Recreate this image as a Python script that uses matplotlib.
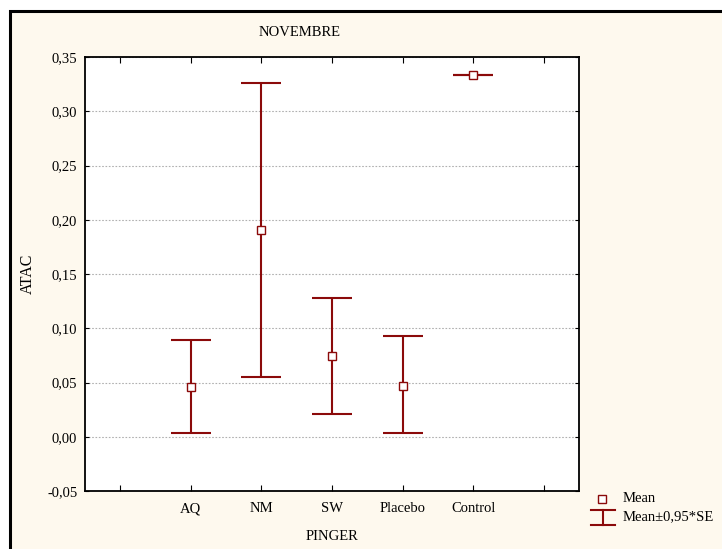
import matplotlib
matplotlib.use("Agg")
import matplotlib.pyplot as plt
from matplotlib.patches import Rectangle
from matplotlib.lines import Line2D
import numpy as np

# ── data ─────────────────────────────────────────────────────────────────────
groups = ["AQ", "NM", "SW", "Placebo", "Control"]
means  = [0.046, 0.191, 0.074, 0.047, 0.333]
upper  = [0.089, 0.326, 0.128, 0.093, 0.333]
lower  = [0.003, 0.055, 0.021, 0.003, 0.333]
yticks = [-0.05, 0.00, 0.05, 0.10, 0.15, 0.20, 0.25, 0.30, 0.35]

red   = "#8b0a0a"
cream = "#fef9ee"

plt.rcParams["font.family"] = ["Liberation Serif", "DejaVu Serif"]
plt.rcParams["font.size"] = 10.5

fig = plt.figure(figsize=(7.22, 5.49), dpi=100)
fig.patch.set_facecolor("white")
W, H = 722, 549

# cream panel with black frame
fig.patches.append(Rectangle((10 / W, -0.05), 1.1, 1 - 11 / H + 0.05,
                             transform=fig.transFigure, facecolor=cream,
                             edgecolor="black", linewidth=2.2, zorder=-5))

ax = fig.add_axes([85 / W, 1 - 491 / H, (579 - 85) / W, (491 - 57) / H])
ax.set_facecolor("white")

x = np.arange(1, len(groups) + 1)
m = np.array(means)
yerr = [m - np.array(lower), np.array(upper) - m]
ax.errorbar(x, m, yerr=yerr, fmt="none", ecolor=red, elinewidth=1.5,
            capsize=14.5, capthick=1.5, zorder=3)
ax.plot(x, m, "s", ms=5.5, mfc="white", mec=red, mew=1.0, zorder=4)

ax.set_xlim(-0.5, 6.5)
ax.set_ylim(-0.05, 0.35)
ax.set_xticks(range(0, 7))
ax.set_xticklabels([""] + groups + [""])
ax.set_yticks(yticks)
ax.set_yticklabels([f"{v:.2f}".replace(".", ",") for v in yticks])
ax.yaxis.grid(True, linestyle=(0, (1.5, 1.5)), color="#b0b0b0", linewidth=0.8)
ax.set_axisbelow(True)
ax.tick_params(axis="x", direction="in", length=4, top=True, pad=8)
ax.tick_params(axis="y", direction="in", length=3, right=True, pad=5.5)
for s in ax.spines.values():
    s.set_linewidth(1.3)

ax.set_ylabel("ATAC", labelpad=8, fontsize=11.5)
ax.set_xlabel("PINGER", labelpad=11)
fig.text(300 / W, 1 - 32 / H, "NOVEMBRE", ha="center", va="center")

# legend drawn by hand in figure coords
fig.lines.append(Line2D([602 / W], [1 - 499 / H], marker="s", ms=5.5,
                        mfc="white", mec=red, mew=1.0, linestyle="none",
                        transform=fig.transFigure))
fig.text(623 / W, 1 - 499 / H, "Mean", ha="left", va="center")
fig.lines.append(Line2D([603 / W, 603 / W], [1 - 510 / H, 1 - 525 / H],
                        color=red, lw=1.5, transform=fig.transFigure))
for yy in (510, 525):
    fig.lines.append(Line2D([591 / W, 615 / W], [1 - yy / H, 1 - yy / H],
                            color=red, lw=1.5, transform=fig.transFigure))
fig.text(623 / W, 1 - 517 / H, "Mean\u00b10,95*SE", ha="left", va="center")

fig.savefig("out.png", dpi=100)
